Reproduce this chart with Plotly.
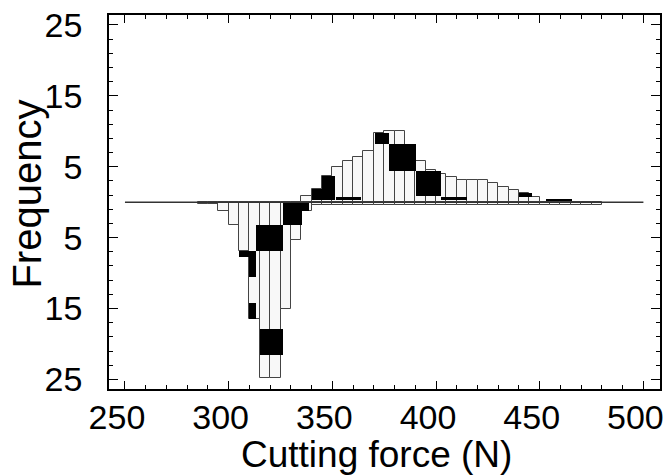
import numpy as np
import plotly.graph_objects as go

# ---------------- data ----------------
bin_width = 5
upper_bins = [335, 340, 345, 350, 355, 360, 365, 370, 375, 380, 385, 390,
              395, 400, 405, 410, 415, 420, 425, 430, 435, 440, 445]
upper_freq = [0.85, 1.8, 3.7, 5.0, 5.85, 6.4, 7.25, 9.7, 10.0, 10.0, 7.75, 5.85,
              4.5, 4.0, 3.55, 3.1, 3.1, 3.1, 2.65, 2.2, 1.75, 1.3, 0.8]

lower_bins = [285, 290, 295, 300, 305, 310, 315, 320, 325, 330, 335,
              340, 345, 350, 355, 360, 365, 370, 375, 380, 385, 390, 395, 400,
              405, 410, 415, 420, 425, 430, 435, 440, 445, 450, 455, 460, 465,
              470, 475]
lower_freq = [0.3, 0.3, 1.3, 3.2, 6.9, 16.5, 24.8, 24.8, 15.1, 5.4, 1.3,
              0.35, 0.35, 0.35, 0.35, 0.35, 0.35, 0.35, 0.35, 0.35, 0.35, 0.35, 0.35, 0.35,
              0.35, 0.35, 0.35, 0.35, 0.35, 0.35, 0.35, 0.35, 0.35, 0.35, 0.35, 0.35, 0.35,
              0.35, 0.35]

# dark (solid black) segments of the printed histogram
upper_dark_from = [340.4, 345.1, 351.7, 370.7, 377.2, 390.3, 402.2, 440.1, 452.9]
upper_dark_to = [345.1, 351.4, 364.0, 377.2, 390.3, 402.2, 414.8, 446.3, 465.5]
upper_dark_low = [0.3, 0.3, 0.3, 8.2, 4.35, 0.85, 0.3, 0.8, 0.1]
upper_dark_high = [1.8, 3.7, 0.75, 9.7, 8.2, 4.35, 0.75, 1.3, 0.5]

lower_dark_from = [305.1, 309.9, 309.9, 313.1, 315.0, 326.1, 326.1]
lower_dark_to = [313.1, 313.1, 313.1, 326.1, 326.1, 338.5, 335.4]
lower_dark_low = [6.9, 7.8, 14.2, 3.2, 17.9, 0.0, 1.3]
lower_dark_high = [7.8, 10.6, 16.5, 6.9, 21.6, 1.3, 3.2]

baseline_x = [250, 500]

x_ticks = [250, 300, 350, 400, 450, 500]
y_tickvals = [-25, -15, -5, 5, 15, 25]
y_ticktext = ["25", "15", "5", "5", "15", "25"]

# ---------------- figure ----------------
FONT = "Liberation Sans, Arial, sans-serif"
fig = go.Figure()

ub = np.array(upper_bins, float)
lb = np.array(lower_bins, float)

fig.add_trace(go.Bar(
    x=ub + bin_width / 2, y=upper_freq, width=bin_width, base=0,
    marker=dict(color="#f8f8f8", line=dict(color="#444444", width=1)),
    showlegend=False, hoverinfo="skip"))
fig.add_trace(go.Bar(
    x=lb + bin_width / 2, y=-np.array(lower_freq), width=bin_width, base=0,
    marker=dict(color="#f8f8f8", line=dict(color="#444444", width=1)),
    showlegend=False, hoverinfo="skip"))

uf, ut = np.array(upper_dark_from), np.array(upper_dark_to)
ul, uh = np.array(upper_dark_low), np.array(upper_dark_high)
fig.add_trace(go.Bar(
    x=(uf + ut) / 2, width=ut - uf, base=ul, y=uh - ul,
    marker=dict(color="black", line=dict(width=0)),
    showlegend=False, hoverinfo="skip"))

lf, lt = np.array(lower_dark_from), np.array(lower_dark_to)
ll, lh = np.array(lower_dark_low), np.array(lower_dark_high)
fig.add_trace(go.Bar(
    x=(lf + lt) / 2, width=lt - lf, base=-lh, y=lh - ll,
    marker=dict(color="black", line=dict(width=0)),
    showlegend=False, hoverinfo="skip"))

fig.add_trace(go.Scatter(
    x=baseline_x, y=[0, 0], mode="lines",
    line=dict(color="#333333", width=1.5),
    showlegend=False, hoverinfo="skip"))

fig.update_layout(
    width=670, height=476,
    margin=dict(l=109, r=6, t=11, b=87),
    paper_bgcolor="white", plot_bgcolor="white",
    barmode="overlay", bargap=0,
    font=dict(family=FONT, color="black"),
    annotations=[
        dict(text="Cutting force (N)", xref="paper", yref="paper",
             x=0.485, y=-0.176, xanchor="center", yanchor="middle",
             showarrow=False, font=dict(size=37, family=FONT, color="black")),
        dict(text="Frequency", xref="paper", yref="paper",
             x=-0.148, y=0.521, xanchor="center", yanchor="middle", textangle=-90,
             showarrow=False, font=dict(size=40, family=FONT, color="black")),
    ],
)

fig.update_xaxes(
    range=[242.3, 508], tickvals=x_ticks, ticktext=[str(v) for v in x_ticks],
    ticks="inside", ticklen=8, tickwidth=1.3, tickcolor="black",
    minor=dict(dtick=10, tick0=250, ticks="inside", ticklen=4, tickwidth=1.2, tickcolor="black"),
    showline=True, linecolor="black", linewidth=1.5, mirror="ticks",
    showgrid=False, zeroline=False,
    tickfont=dict(size=34, family=FONT, color="black"),
    ticklabelstandoff=-3, ticklabelshift=-8, ticklabeloverflow="allow")

fig.update_yaxes(
    range=[-26.35, 26.4], tickvals=y_tickvals, ticktext=y_ticktext,
    ticks="inside", ticklen=9, tickwidth=1.3, tickcolor="black",
    minor=dict(dtick=2, tick0=1, ticks="inside", ticklen=4, tickwidth=1.2, tickcolor="black"),
    showline=True, linecolor="black", linewidth=1.5, mirror="ticks",
    showgrid=False, zeroline=False,
    tickfont=dict(size=34, family=FONT, color="black"), ticklabelstandoff=18)

fig.write_html("out.html")
